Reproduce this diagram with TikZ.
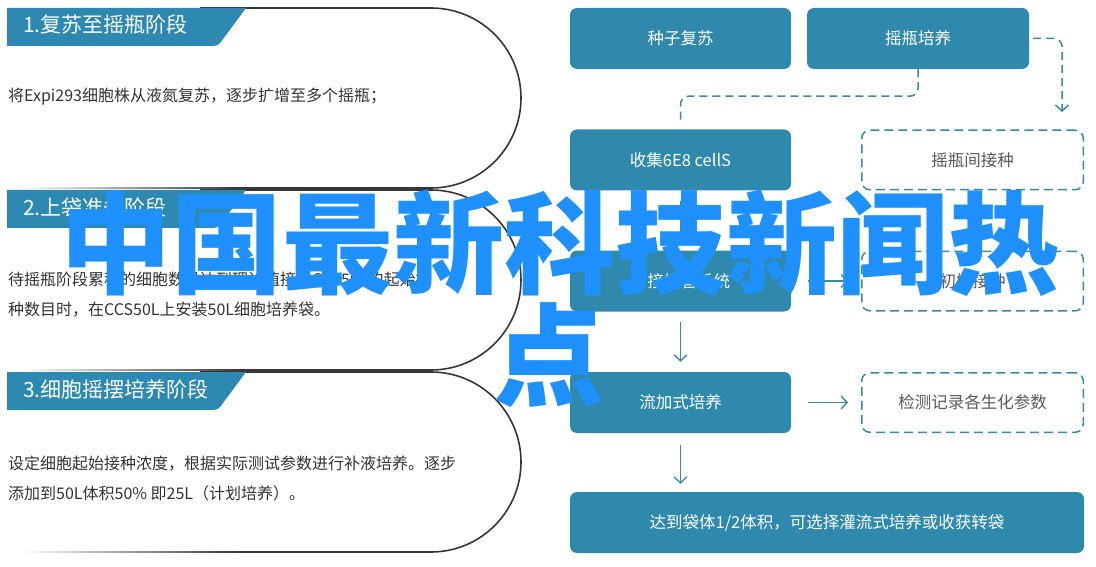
\documentclass[tikz,border=0pt]{standalone}
\usepackage{fontspec}
\setmainfont{Noto Sans CJK SC}
\usetikzlibrary{arrows.meta,positioning}
\definecolor{boxblue}{RGB}{47,137,172}
\definecolor{tabblue}{RGB}{45,137,178}
\definecolor{panelgray}{RGB}{55,55,55}
\definecolor{bodygray}{RGB}{51,51,51}
\definecolor{lineteal}{RGB}{60,138,160}
\definecolor{dashgray}{RGB}{90,90,90}
\definecolor{markblue}{RGB}{30,144,255}

\begin{document}
\begin{tikzpicture}[x=1pt,y=-1pt,
  panelline/.style={draw=panelgray,line width=1.6pt},
  headtext/.style={anchor=west,inner sep=0pt,text=white,font=\fontsize{21}{24}\selectfont},
  bodytext/.style={anchor=west,inner sep=0pt,text=bodygray,align=left,font=\fontsize{16}{30}\selectfont},
  flowbox/.style={fill=boxblue,text=white,rounded corners=7pt,minimum width=221pt,minimum height=61pt,inner sep=0pt,font=\fontsize{16.5}{20}\selectfont},
  dashbox/.style={draw=lineteal,line width=1.5pt,dash pattern=on 9pt off 5pt,rounded corners=8pt,text=dashgray,minimum width=221.5pt,minimum height=59.5pt,inner sep=0pt,font=\fontsize{16.5}{20}\selectfont},
  dashline/.style={draw=lineteal,line width=1.5pt,dash pattern=on 8pt off 5pt},
  flowarrow/.style={draw=lineteal,line width=1.4pt,-{Straight Barb[length=6pt,width=13pt]}},
  watermark/.style={anchor=base,inner sep=0pt,text=markblue,font=\bfseries\fontsize{111}{115}\selectfont}]
\useasboundingbox[fill=white] (0,0) rectangle (1096,567);

% three stage panels on the left
\foreach \t/\head in {8/1.复苏至摇瓶阶段,190/2.上袋准备阶段,372/3.细胞摇摆培养阶段}{
  \draw[panelline] (200,\t) -- (431,\t)
    .. controls (480.7,\t) and (521,\t+40.3) .. (521,\t+90)
    .. controls (521,\t+139.7) and (480.7,\t+180) .. (431,\t+180) -- (240,\t+180);
  \shade[left color=white,right color=panelgray] (20,\t+179.2) rectangle (240,\t+180.8);
  \fill[tabblue] (7,\t) -- (246,\t) -- (223,\t+31) .. controls (218,\t+38) .. (208,\t+38) -- (7,\t+38) -- cycle;
  \node[headtext] (head\t) at (23,\t+17) {\head};
}
\node[bodytext] (body1) at (8,97) {将Expi293细胞株从液氮复苏，逐步扩增至多个摇瓶；};
\node[bodytext] (body2) at (8,295) {待摇瓶阶段累积的细胞数量达到理论值接种CCS50L的起始接\\种数目时，在CCS50L上安装50L细胞培养袋。};
\node[bodytext] (body3) at (8,478.5) {设定细胞起始接种浓度，根据实际测试参数进行补液培养。逐步\\添加到50L体积50\% 即25L（计划培养）。};

% process flow on the right
\node[flowbox] (seed) at (680.5,38.5) {种子复苏};
\node[flowbox,minimum width=222pt] (shake) at (918,38.5) {摇瓶培养};
\node[flowbox] (collect) at (680.5,160) {收集6E8 cellS};
\node[dashbox] (shakeinoc) at (972.5,160) {摇瓶间接种};
\node[flowbox] (transfer) at (680.5,281) {转接插管系统};
\node[dashbox] (initinoc) at (972.5,281) {初始接种};
\node[flowbox] (fedbatch) at (680.5,402.5) {流加式培养};
\node[dashbox] (monitor) at (972.5,402.5) {检测记录各生化参数};
\node[flowbox,minimum width=514pt] (harvest) at (827,522.5) {达到袋体1/2体积，可选择灌流式培养或收获转袋};

\coordinate (shaketip) at (1062,112);
\coordinate (collectin) at (680.5,120);
\draw[dashline,-{Straight Barb[length=6pt,width=13pt]},rounded corners=8pt,shorten <=4pt] (shake.east) -| (shaketip);
\draw[dashline,rounded corners=8pt] (shake.south) -- ++(0,27) -| (collectin);
\draw[flowarrow,shorten <=10pt,shorten >=10pt] (collect) -- (transfer);
\draw[flowarrow,shorten <=10pt,shorten >=10pt] (transfer) -- (fedbatch);
\draw[flowarrow,shorten <=12pt,shorten >=8pt] (fedbatch.south) -- (fedbatch.south |- harvest.north);
\draw[flowarrow,shorten <=17pt,shorten >=13pt] (transfer) -- (initinoc);
\draw[flowarrow,shorten <=17pt,shorten >=13pt] (fedbatch) -- (monitor);

% overlay text
\node[watermark] (mark1) at (560,285) {中国最新科技新闻热};
\node[watermark] (mark2) at (549,397) {点};
\end{tikzpicture}
\end{document}
